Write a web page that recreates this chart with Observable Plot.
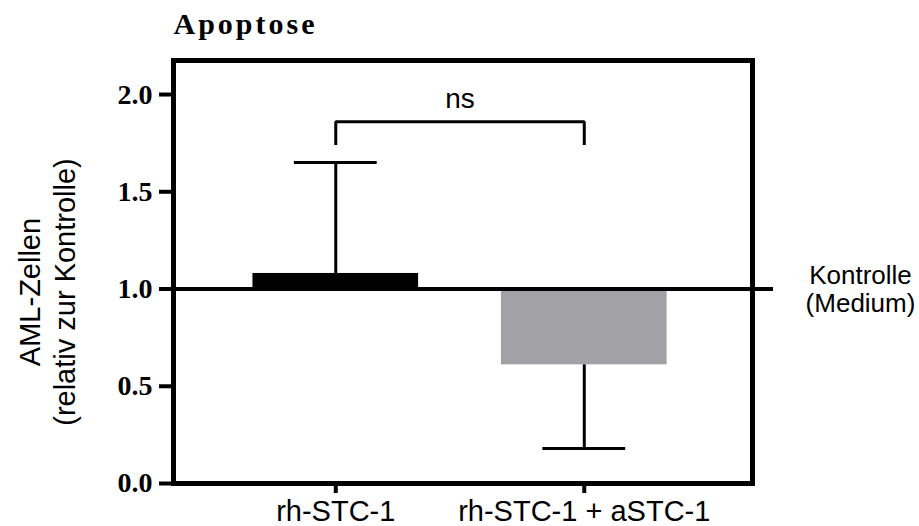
<!DOCTYPE html>
<html>
<head>
<meta charset="utf-8">
<script src="https://cdn.jsdelivr.net/npm/d3@7"></script>
<script src="https://cdn.jsdelivr.net/npm/@observablehq/plot@0.6"></script>
<style>
  html, body { margin: 0; padding: 0; background: #fff; }
  #chart svg { display: block; }
</style>
</head>
<body>
<div id="chart"></div>
<script>
// Apoptosis of AML cells relative to the medium control (= 1.0)
const groups = ["rh-STC-1", "rh-STC-1 + aSTC-1"];
const means = [1.08, 0.61];
const sds = [0.57, 0.43];
const barColors = ["#000000", "#a2a1a5"];
const yTicks = [0, 0.5, 1, 1.5, 2];
const controlValue = 1;
const controlLabel = "Kontrolle\n(Medium)";
const yLabel = "AML-Zellen\n(relativ zur Kontrolle)";
const title = "Apoptose";
const sigLabel = "ns";
const bracketLow = 1.74;
const bracketHigh = 1.86;

const sans = "'Liberation Sans', Arial, sans-serif";
const serif = "'Liberation Serif', 'Times New Roman', serif";

const rows = groups.map((g, i) => ({
  i,
  group: g,
  mean: means[i],
  // error bar points away from the control line
  end: means[i] + Math.sign(means[i] - controlValue) * sds[i],
  color: barColors[i]
}));

const bracket = [
  {x: 0, y: bracketLow},
  {x: 0, y: bracketHigh},
  {x: 1, y: bracketHigh},
  {x: 1, y: bracketLow}
];

const half = 1 / 3;   // half bar width in x units
const cap = 1 / 6;    // half cap width

const chart = Plot.plot({
  width: 919,
  height: 526,
  marginLeft: 173,
  marginRight: 167,
  marginTop: 60,
  marginBottom: 43,
  style: {background: "#fff", color: "#000", overflow: "visible"},
  x: {domain: [-0.653, 1.677]},
  y: {domain: [0, 2.175]},
  marks: [
    Plot.rectY(rows, {
      x1: d => d.i - half,
      x2: d => d.i + half,
      y1: () => controlValue,
      y2: "mean",
      fill: "color"
    }),
    Plot.ruleX(rows, {x: "i", y1: "mean", y2: "end", strokeWidth: 3}),
    Plot.ruleY(rows, {y: "end", x1: d => d.i - cap, x2: d => d.i + cap, strokeWidth: 3}),
    Plot.ruleY([controlValue], {strokeWidth: 4, insetRight: -21}),
    Plot.line(bracket, {x: "x", y: "y", strokeWidth: 3, strokeLinejoin: "miter", strokeLinecap: "butt"}),
    Plot.text([sigLabel], {
      x: () => 0.5, y: () => bracketHigh, dy: -14,
      lineAnchor: "bottom", fontSize: 28, fontFamily: sans
    }),
    Plot.frame({strokeWidth: 5}),
    Plot.axisY({
      ticks: yTicks, tickFormat: d3.format(".1f"), tickSize: 14, tickPadding: 7,
      strokeWidth: 4, fontSize: 28, fontWeight: "bold", fontFamily: serif, label: null
    }),
    Plot.axisX({
      ticks: [0, 1], tickFormat: i => groups[i], tickSize: 10, tickPadding: 7,
      strokeWidth: 4, fontSize: 29, fontFamily: sans, label: null
    }),
    Plot.text([yLabel], {
      frameAnchor: "left", rotate: -90, dx: -127, dy: 20, textAnchor: "middle",
      lineAnchor: "middle", lineHeight: 1.2, fontSize: 29, fontFamily: sans
    }),
    Plot.text([controlLabel], {
      y: () => controlValue, frameAnchor: "right", dx: 108, textAnchor: "middle",
      lineAnchor: "middle", lineHeight: 1.1, fontSize: 26, fontFamily: sans
    }),
    Plot.text([title], {
      frameAnchor: "top-left", dy: -27, textAnchor: "start", lineAnchor: "bottom",
      fontSize: 30, fontWeight: "bold", fontFamily: serif
    })
  ]
});

// spaced-out heading letters
d3.select(chart).selectAll("text").filter(function () {
  return this.textContent === title;
}).style("letter-spacing", "3px");

document.getElementById("chart").appendChild(chart);
</script>
</body>
</html>
